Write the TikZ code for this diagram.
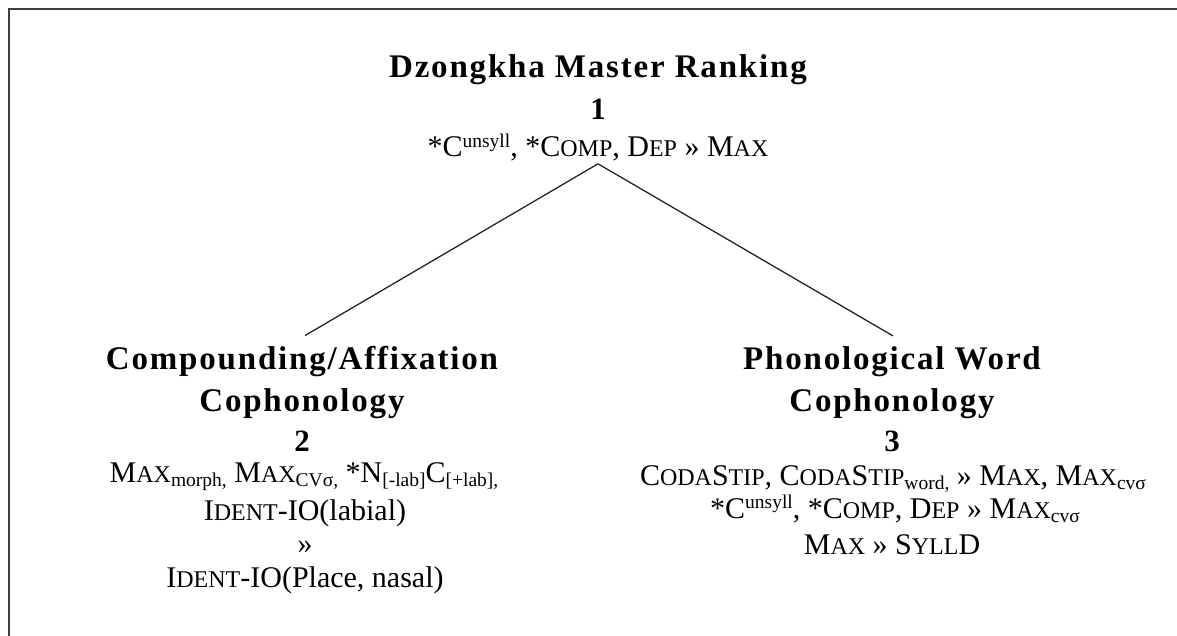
\documentclass[tikz,border=0pt]{standalone}
\usepackage{fontspec}
\setmainfont{Liberation Serif}
\newfontfamily\hdfont[LetterSpace=5.5]{Liberation Serif}
\newcommand\SC[1]{{\fontsize{24}{24}\selectfont #1}}
\newcommand\SB[1]{\raisebox{-0.14em}{\fontsize{19.5}{20}\selectfont #1}}
\newcommand\SP[1]{\raisebox{0.33em}{\fontsize{19.5}{20}\selectfont #1}}
\tikzset{
  head/.style={anchor=base, inner sep=0pt, font=\hdfont\bfseries\fontsize{33}{33}\selectfont},
  num/.style={anchor=base, inner sep=0pt, font=\bfseries\fontsize{31}{31}\selectfont},
  rank/.style={anchor=base, inner sep=0pt, font=\fontsize{30}{30}\selectfont},
  frame/.style={draw=black!75, line width=2pt},
  branch/.style={draw=black!85, line width=1.3pt}
}
\begin{document}
\begin{tikzpicture}[x=1pt,y=-1pt]
\useasboundingbox (0,0) rectangle (1177,636);
\draw[frame] (9,645) -- (9,9) -- (1185,9);
% top block
\node[head] (t1) at (598,78) {Dzongkha Master Ranking};
\node[num]  (t2) at (598,120) {1};
\node[rank] (t3) at (598,157) {*C\SP{unsyll}, *C\SC{OMP}, D\SC{EP} » M\SC{AX}};
% left block
\node[head] (h2a) at (302,369) {Compounding/Affixation};
\node[head] (h2b) at (302,411) {Cophonology};
\node[num]  (n2)  at (302,451) {2};
\node[rank] (l2a) at (304,482) {M\SC{AX}\SB{morph,} M\SC{AX}\SB{CVσ,} *N\SB{[-lab]}C\SB{[+lab],}};
\node[rank] (l2b) at (305,520) {I\SC{DENT}-IO(labial)};
\node[rank] (l2c) at (305,553) {»};
\node[rank] (l2d) at (305,587) {I\SC{DENT}-IO(Place, nasal)};
% right block
\node[head] (h3a) at (892,369) {Phonological Word};
\node[head] (h3b) at (892,411) {Cophonology};
\node[num]  (n3)  at (892,451) {3};
\node[rank] (r1) at (893,485) {C\SC{ODA}S\SC{TIP}, C\SC{ODA}S\SC{TIP}\SB{word,} » M\SC{AX}, M\SC{AX}\SB{cvσ}};
\node[rank] (r2) at (895,518) {*C\SP{unsyll}, *C\SC{OMP}, D\SC{EP} » M\SC{AX}\SB{cvσ}};
\node[rank] (r3) at (892,554) {M\SC{AX} » S\SC{YLL}D};
% branches
\draw[branch] ([yshift=-2pt]t3.south) -- ([xshift=3pt,yshift=10pt]h2a.north);
\draw[branch] ([yshift=-2pt]t3.south) -- ([xshift=1pt,yshift=10pt]h3a.north);
\end{tikzpicture}
\end{document}
